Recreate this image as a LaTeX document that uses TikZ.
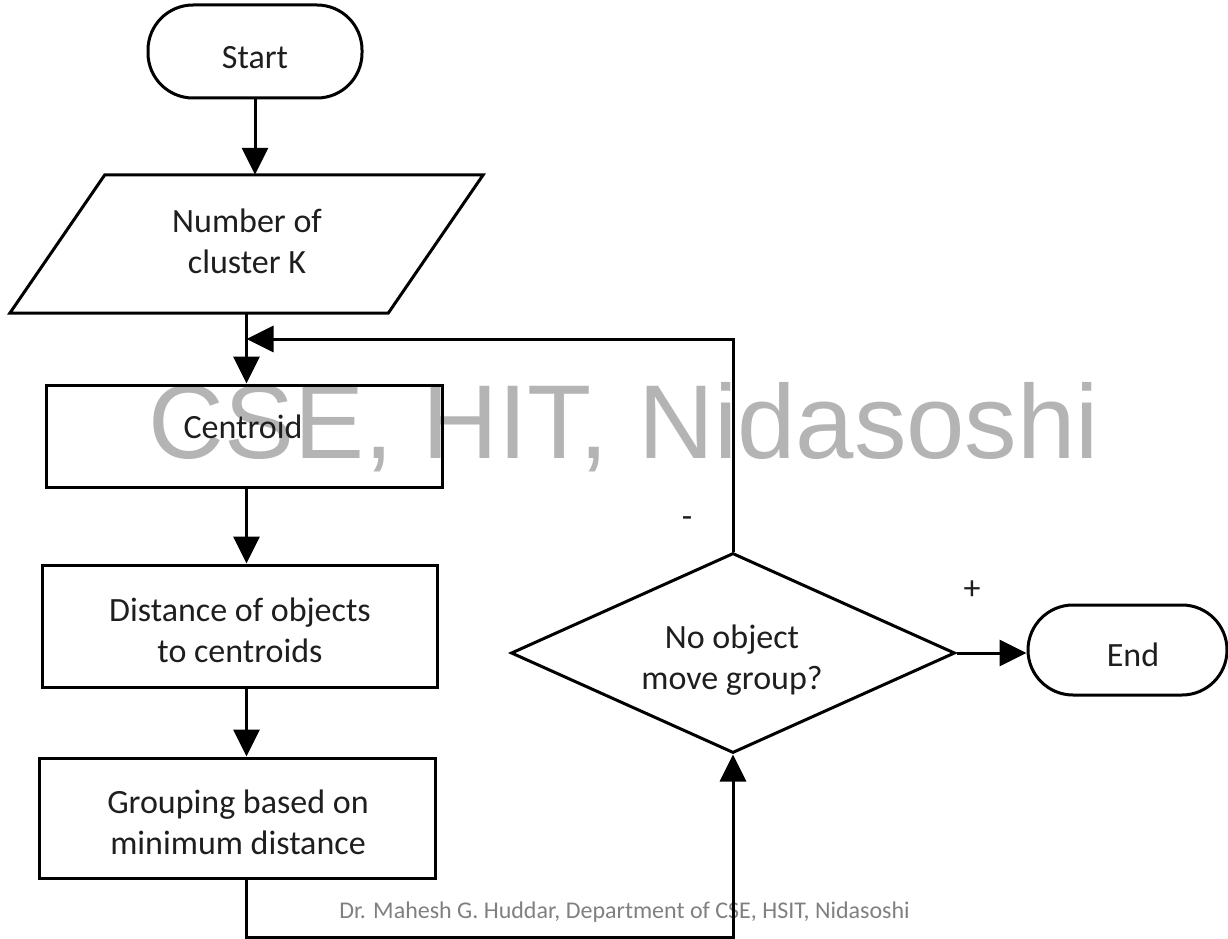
\documentclass[tikz,border=0pt]{standalone}
\usepackage{fontspec}
\setmainfont{Carlito}
\newfontfamily\wmfont{Liberation Sans}
\usetikzlibrary{arrows.meta,shapes.geometric,calc}
\definecolor{wmgray}{RGB}{180,180,180}
\definecolor{footgray}{RGB}{128,128,128}
\definecolor{ink}{RGB}{30,30,30}

\begin{document}
\begin{tikzpicture}[x=1pt,y=-1pt,
  every node/.style={font=\fontsize{34}{41}\selectfont, text=ink, inner sep=0pt, align=center},
  outline/.style={draw=black, line width=3pt},
  term/.style={outline, rounded corners=45pt},
  proc/.style={outline, rectangle},
  decision/.style={outline, diamond, aspect=2.22},
  flow/.style={line width=3pt, -{Triangle[width=26pt,length=27pt]}},
  wm/.style={font=\wmfont\fontsize{105}{110}\selectfont, text=wmgray},
  foot/.style={font=\fontsize{24}{28}\selectfont, text=footgray}]

\useasboundingbox (0,0) rectangle (1228,939);

% watermark behind the chart
\node[wm, anchor=base west] (wm) at (148,458) {CSE, HIT, Nidasoshi};

% flow chart shapes
\node[term, minimum width=214pt, minimum height=93pt] (start) at (255,51.5) {};
\node[minimum width=283pt, minimum height=138pt] (k) at (246.5,244) {};
\draw[outline] (k.north west) -- ($(k.north east)+(95,0)$) -- (k.south east)
  -- ($(k.south west)+(-95,0)$) -- cycle;
\node[proc, minimum width=396pt, minimum height=102pt] (cen) at (244,436) {};
\node[proc, minimum width=395pt, minimum height=122pt] (dist) at (239.5,626) {};
\node[proc, minimum width=396pt, minimum height=120pt] (grp) at (237,818) {};
\node[decision, minimum width=444pt, minimum height=200pt] (dec) at (733,653) {};
\node[term, minimum width=199pt, minimum height=90pt] (end) at (1127.5,650) {};

% texts inside the shapes
\node (startText) at (255,58) {Start};
\node (kText) at (247,241) {Number of\\cluster K};
\node (cenText) at (243,427) {Centroid};
\node (distText) at (240,630) {Distance of objects\\to centroids};
\node (grpText) at (238,822) {Grouping based on\\minimum distance};
\node (decText) at (732,660) {No object\\move group?};
\node (endText) at (1133,655) {End};

% branch labels
\node (minus) at (687,522) {-};
\node (plus) at (972,590) {+};

% footer
\node[foot, anchor=base] (foot) at (624.5,918) {Dr. Mahesh G. Huddar, Department of CSE, HSIT, Nidasoshi};

% connectors
\coordinate (join) at (k.south |- 0,339);
\coordinate (bot) at (k.south |- 0,937);
\draw[flow] (start.south) -- (start.south |- k.north);
\draw[flow] (k.south) -- (k.south |- cen.north);
\draw[flow] (cen.south -| k.south) -- (k.south |- dist.north);
\draw[flow] (dist.south -| k.south) -- (k.south |- grp.north);
\draw[flow] (grp.south -| bot) -- (bot) -| (dec.south);
\draw[flow] (dec.north) |- (join);
\draw[flow] (dec.east) -- (dec.east -| end.west);
\end{tikzpicture}
\end{document}
